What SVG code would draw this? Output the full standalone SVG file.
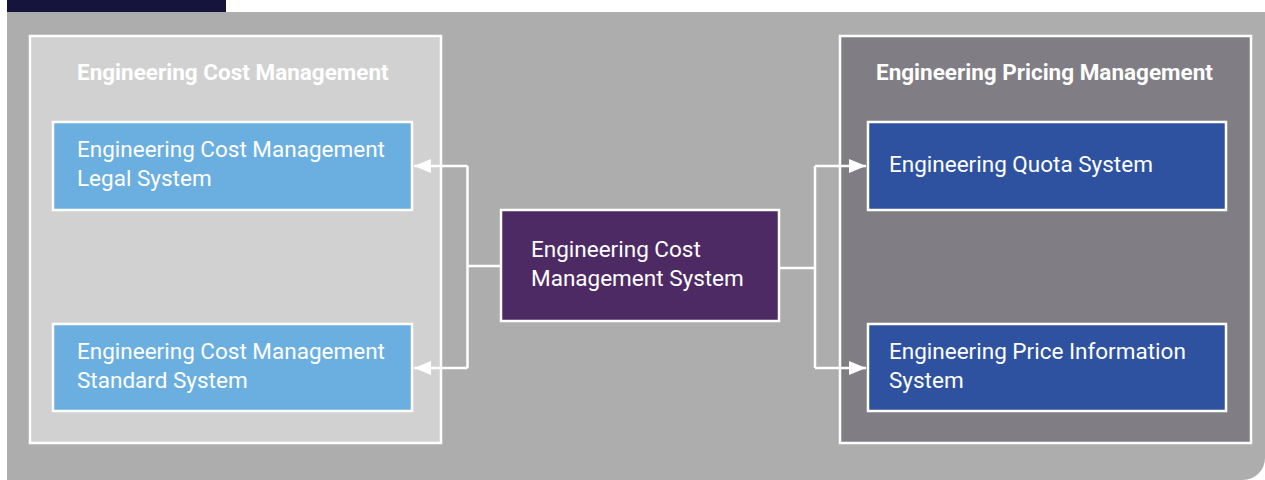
<svg xmlns="http://www.w3.org/2000/svg" width="1265" height="480" viewBox="0 0 1265 480">
<style>
text{font-family:Roboto,"Liberation Sans",sans-serif;fill:#ffffff;font-size:22.5px}
.title{font-weight:bold;font-size:22.5px}
.box{stroke:#ffffff;stroke-width:2.5}
.con{fill:none;stroke:#ffffff;stroke-width:2.5}
</style>
<defs>
<marker id="ah" markerUnits="userSpaceOnUse" markerWidth="17" markerHeight="14" refX="17" refY="7" orient="auto">
<path d="M0,0 L17,7 L0,14 z" fill="#ffffff"/>
</marker>
</defs>
<rect x="7" y="0" width="219" height="12" fill="#14143c"/>
<path d="M7,12 H1265 V458 A22,22 0 0 1 1243,480 H7 Z" fill="#adadad"/>
<g id="cost-management">
<rect class="box" x="30" y="36" width="411" height="407" fill="#d1d1d1"/>
<text class="title" x="77" y="80">Engineering Cost Management</text>
</g>
<g id="pricing-management">
<rect class="box" x="840" y="36" width="411" height="407" fill="#807e84"/>
<text class="title" x="876" y="80">Engineering Pricing Management</text>
</g>
<g id="legal-system">
<rect class="box" x="53" y="122" width="359" height="88" fill="#6aafe0"/>
<text x="77" y="157">Engineering Cost Management</text>
<text x="77" y="186">Legal System</text>
</g>
<g id="standard-system">
<rect class="box" x="53" y="324" width="359" height="87" fill="#6aafe0"/>
<text x="77" y="359">Engineering Cost Management</text>
<text x="77" y="388">Standard System</text>
</g>
<g id="cost-system">
<rect class="box" x="501" y="210" width="278" height="111" fill="#4e2a64"/>
<text x="531" y="257">Engineering Cost</text>
<text x="531" y="286">Management System</text>
</g>
<g id="quota-system">
<rect class="box" x="868" y="122" width="358" height="88" fill="#2e52a0"/>
<text x="889" y="172">Engineering Quota System</text>
</g>
<g id="price-info-system">
<rect class="box" x="868" y="324" width="358" height="87" fill="#2e52a0"/>
<text x="889" y="359">Engineering Price Information</text>
<text x="889" y="388">System</text>
</g>
<g id="connectors">
<path class="con" d="M501,266 H467.5 M467.5,166 V368"/>
<path class="con" d="M467.5,166 H414" marker-end="url(#ah)"/>
<path class="con" d="M467.5,368 H414" marker-end="url(#ah)"/>
<path class="con" d="M779,268 H815 M815,166 V368"/>
<path class="con" d="M815,166 H866" marker-end="url(#ah)"/>
<path class="con" d="M815,368 H866" marker-end="url(#ah)"/>
</g>
</svg>
